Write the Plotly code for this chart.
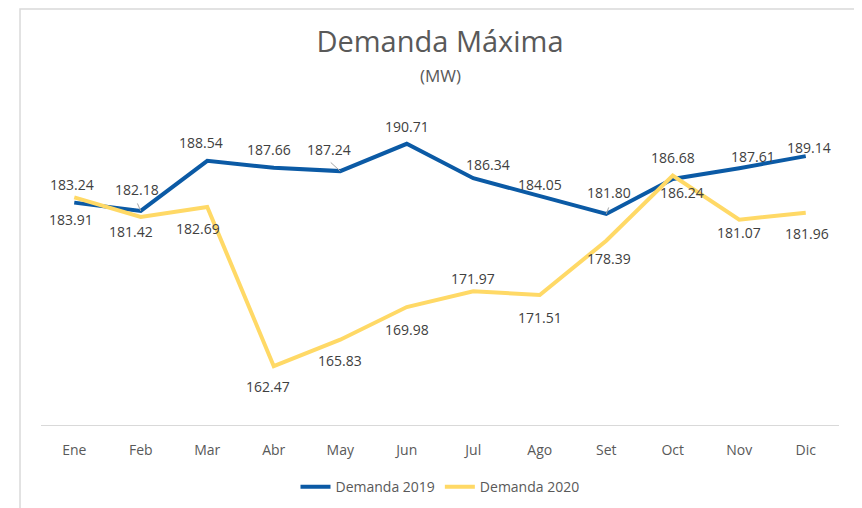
import plotly.graph_objects as go

# months and yearly maximum demand (MW)
meses = ['Ene', 'Feb', 'Mar', 'Abr', 'May', 'Jun', 'Jul', 'Ago', 'Set', 'Oct', 'Nov', 'Dic']
demanda_2019 = [183.24, 182.18, 188.54, 187.66, 187.24, 190.71, 186.34, 184.05, 181.80, 186.24, 187.61, 189.14]
demanda_2020 = [183.91, 181.42, 182.69, 162.47, 165.83, 169.98, 171.97, 171.51, 178.39, 186.68, 181.07, 181.96]

# label offsets in pixels (manually placed in the original)
dx_2019 = [-2, -4, -6, -5, -11, 0, 15, 0, 3, 9, 14, 3]
dy_2019 = [-18, -21, -18, -18, -22, -17, -14, -12, -21, 14, -12, -9]
dx_2020 = [-3, -10, -9, -6, 0, 0, 0, 0, 3, 0, 0, 1]
dy_2020 = [22, 15, 22, 20, 21, 22, -13, 23, 18, -18, 13, 21]

# small leader lines (month index, tail offset x, tail offset y)
leaders = [(1, -4, -9), (4, -11, -10), (8, 3, -8)]

azul = '#0B5AA5'
amarillo = '#FFD966'

fig = go.Figure()
fig.add_trace(go.Scatter(x=meses, y=demanda_2019, name='Demanda 2019', mode='lines',
                         line=dict(color=azul, width=4)))
fig.add_trace(go.Scatter(x=meses, y=demanda_2020, name='Demanda 2020', mode='lines',
                         line=dict(color=amarillo, width=4)))

annotations = []
for serie, dxs, dys in [(demanda_2019, dx_2019, dy_2019), (demanda_2020, dx_2020, dy_2020)]:
    for m, v, dx, dy in zip(meses, serie, dxs, dys):
        annotations.append(dict(x=m, y=v, text='%.2f' % v, showarrow=False,
                                xshift=dx, yshift=-dy,
                                font=dict(size=14, color='#404040')))

for i, ax, ay in leaders:
    annotations.append(dict(x=meses[i], y=demanda_2019[i], text='', showarrow=True,
                            ax=ax, ay=ay, arrowhead=0, arrowwidth=1, arrowcolor='#a6a6a6'))

# subtitle
annotations.append(dict(x=0.5, y=1.108, xref='paper', yref='paper', text='(MW)',
                        xanchor='center', yanchor='middle',
                        showarrow=False, font=dict(size=17, color='#595959')))

# page has an 8px body margin, so the figure is laid out 8px up/left
fig.update_layout(
    width=862, height=508,
    margin=dict(l=33, r=31, t=102, b=91),
    paper_bgcolor='white', plot_bgcolor='white',
    font=dict(family='Open Sans', color='#595959'),
    title=dict(text='Demanda Máxima', x=0.5, xref='paper', xanchor='center',
               y=1 - 34 / 508, yref='container', yanchor='middle',
               font=dict(size=29, color='#595959')),
    showlegend=True,
    legend=dict(orientation='h', x=0.5, xanchor='center', y=-0.197, yanchor='middle',
                font=dict(size=14, color='#595959')),
    annotations=annotations,
    shapes=[dict(type='rect', xref='paper', yref='paper', x0=-0.0263, x1=1.0276,
                 y0=-0.4, y1=1.321, line=dict(color='#d9d9d9', width=1.5))],
)
fig.update_xaxes(range=[-0.5, 11.5], showline=True, linecolor='#d9d9d9', linewidth=1,
                 showgrid=False, zeroline=False, ticks='', ticklabelstandoff=12,
                 tickfont=dict(size=14, color='#595959'))
fig.update_yaxes(range=[155, 195], visible=False)

fig.write_html("out.html")
